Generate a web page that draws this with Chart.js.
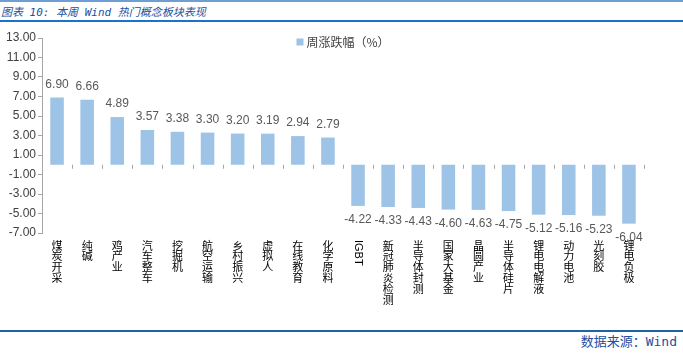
<!DOCTYPE html>
<html>
<head>
<meta charset="utf-8">
<script src="https://cdn.jsdelivr.net/npm/chart.js@4.4.0/dist/chart.umd.min.js"></script>
<style>
    body { margin: 0; background: #fff; }
    #wrap { position: relative; width: 683px; height: 354px; overflow: hidden; }
    .rule { position: absolute; left: 0; width: 683px; }
    #title {
        position: absolute; left: 1px; top: 3px;
        font: italic 11px "DejaVu Sans Mono", "Noto Sans CJK SC", monospace;
        color: #2250a0; white-space: pre;
    }
    #source {
        position: absolute; right: 6px; top: 331px;
        font: 13px "DejaVu Sans Mono", "Noto Sans CJK SC", monospace;
        color: #2250a0; white-space: pre;
    }
    #box { position: absolute; left: 0; top: 22px; width: 683px; height: 308px; }
</style>
</head>
<body>
<div id="wrap">
    <div class="rule" style="top:0;height:2px;background:#6f9fd2"></div>
    <div id="title">图表 10: 本周 Wind 热门概念板块表现</div>
    <div class="rule" style="top:20px;height:2px;background:#1a73c8"></div>
    <div id="box"><canvas id="chart"></canvas></div>
    <div class="rule" style="top:330px;height:2px;background:#1f62a8"></div>
    <div id="source">数据来源：Wind</div>
</div>
<script>
const categories = ["煤炭开采", "纯碱", "鸡产业", "汽车整车", "挖掘机", "航空运输", "乡村振兴", "虚拟人", "在线教育", "化学原料",
    "IGBT", "新冠肺炎检测", "半导体封测", "国家大基金", "晶圆产业", "半导体硅片", "锂电电解液", "动力电池", "光刻胶", "锂电负极"];
const weeklyChange = [6.90, 6.66, 4.89, 3.57, 3.38, 3.30, 3.20, 3.19, 2.94, 2.79,
    -4.22, -4.33, -4.43, -4.60, -4.63, -4.75, -5.12, -5.16, -5.23, -6.04];
const seriesName = "周涨跌幅（%）";
const yMin = -7, yMax = 13, yStep = 2;

const barColor = "#9dc3e6";
const axisColor = "#a6a6a6";
const textColor = "#595959";

// value labels above / below bars
const valueLabels = {
    id: "valueLabels",
    afterDatasetsDraw(chart) {
        const ctx = chart.ctx;
        const meta = chart.getDatasetMeta(0);
        ctx.save();
        ctx.font = '12px "Liberation Sans", Arial, sans-serif';
        ctx.fillStyle = textColor;
        ctx.textAlign = "center";
        ctx.textBaseline = "middle";
        meta.data.forEach((bar, i) => {
            const v = weeklyChange[i];
            const y = v >= 0 ? bar.y - 13 : bar.y + 14;
            ctx.fillText(v.toFixed(2), bar.x, y);
        });
        ctx.restore();
    },
};

// legend drawn inside the plot, centred near the top
const innerLegend = {
    id: "innerLegend",
    afterDraw(chart) {
        const ctx = chart.ctx;
        const area = chart.chartArea;
        ctx.save();
        ctx.font = '12px "Noto Sans CJK SC", sans-serif';
        const w = 7 + 3 + ctx.measureText(seriesName).width;
        const x = (area.left + area.right) / 2 - w / 2;
        const y = area.top + 4;
        ctx.fillStyle = barColor;
        ctx.fillRect(x, y - 3.5, 7, 7);
        ctx.fillStyle = "#404040";
        ctx.textBaseline = "middle";
        ctx.fillText(seriesName, x + 10, y);
        ctx.restore();
    },
};

// zero line tick marks and vertical category labels
const categoryAxis = {
    id: "categoryAxis",
    afterDraw(chart) {
        const ctx = chart.ctx;
        const xs = chart.scales.x;
        const y0 = chart.scales.y.getPixelForValue(0);
        const area = chart.chartArea;
        const step = (area.right - area.left) / categories.length;
        ctx.save();
        ctx.strokeStyle = axisColor;
        ctx.lineWidth = 1;
        ctx.beginPath();
        for (let i = 1; i <= categories.length; i++) {
            const x = Math.round(area.left + step * i) + 0.5;
            ctx.moveTo(x, y0);
            ctx.lineTo(x, y0 + 4);
        }
        ctx.stroke();

        ctx.fillStyle = "#000";
        ctx.textAlign = "center";
        ctx.textBaseline = "top";
        const top = area.bottom + 7;
        categories.forEach((label, i) => {
            const x = xs.getPixelForValue(i);
            if (/^[A-Za-z]+$/.test(label)) {
                ctx.save();
                ctx.font = '11px "Liberation Sans", Arial, sans-serif';
                ctx.translate(x, top);
                ctx.rotate(Math.PI / 2);
                ctx.textAlign = "left";
                ctx.textBaseline = "middle";
                ctx.fillText(label, 0, 0);
                ctx.restore();
            } else {
                ctx.font = '11px "Noto Sans CJK SC", sans-serif';
                [...label].forEach((ch, k) => {
                    ctx.fillText(ch, x, top + k * 10.8);
                });
            }
        });
        ctx.restore();
    },
};

new Chart(document.getElementById("chart"), {
    type: "bar",
    data: {
        labels: categories,
        datasets: [{
            label: seriesName,
            data: weeklyChange,
            backgroundColor: barColor,
            barPercentage: 0.45,
            categoryPercentage: 1,
        }],
    },
    options: {
        responsive: true,
        maintainAspectRatio: false,
        animation: false,
        layout: { padding: { left: 0, right: 39, top: 16, bottom: 0 } },
        plugins: {
            legend: { display: false },
            tooltip: { enabled: false },
        },
        scales: {
            x: {
                grid: { display: false },
                border: { display: false },
                ticks: { display: false },
                afterFit(scale) { scale.height = 97; },
            },
            y: {
                min: yMin,
                max: yMax,
                border: { display: true, color: axisColor },
                grid: {
                    drawTicks: true,
                    tickLength: 4,
                    tickColor: axisColor,
                    color: (c) => (c.tick && c.tick.value === 0 ? axisColor : "rgba(0,0,0,0)"),
                },
                ticks: {
                    stepSize: yStep,
                    padding: 2,
                    color: "#404040",
                    font: { size: 12, family: '"Liberation Sans", Arial, sans-serif' },
                    callback: (v) => Number(v).toFixed(2),
                },
                afterFit(scale) { scale.width = 42; },
            },
        },
    },
    plugins: [valueLabels, innerLegend, categoryAxis],
});
</script>
</body>
</html>
